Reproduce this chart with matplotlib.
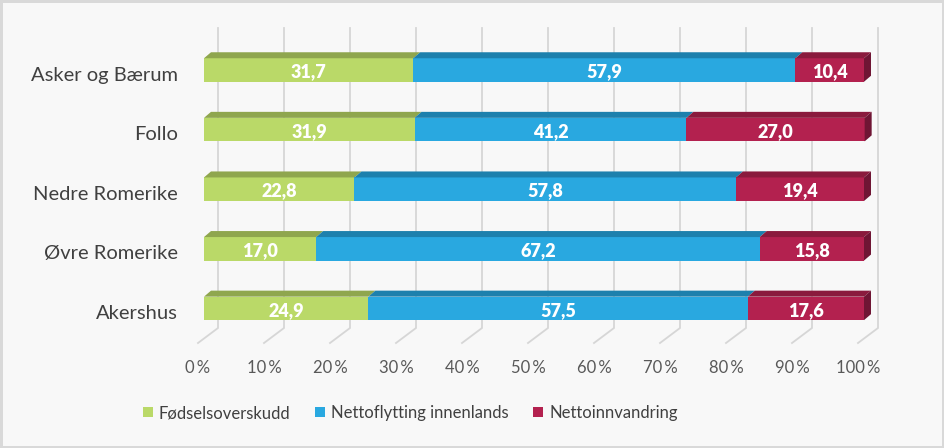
import matplotlib.pyplot as plt
from matplotlib.patches import Polygon, Patch

plt.rcParams['font.family'] = ['Lato', 'DejaVu Sans']

regions = ['Asker og Bærum', 'Follo', 'Nedre Romerike', 'Øvre Romerike', 'Akershus']
fodsel = [31.7, 31.9, 22.8, 17.0, 24.9]
innenlands = [57.9, 41.2, 57.8, 67.2, 57.5]
innvandring = [10.4, 27.0, 19.4, 15.8, 17.6]
series_names = ['Fødselsoverskudd', 'Nettoflytting innenlands', 'Nettoinnvandring']
ticks = [0, 10, 20, 30, 40, 50, 60, 70, 80, 90, 100]

front = ['#BAD968', '#29A8E0', '#B3214F']
top = ['#8FA64E', '#1D80AD', '#8A1A3D']
side_col = '#6F1534'
grid_col = '#D6D6D6'

# scale: 6.6 px per %, 59.6 px per category row
px_x = 6.6
px_y = 59.6
bar_h = 23.5 / px_y
dx, dy = 7 / px_x, 6 / px_y          # bar depth
back_dx = 14 / px_x                   # back wall offset
floor_dx = -6 / px_x

fig = plt.figure(figsize=(9.44, 4.48), dpi=100)
fig.patch.set_facecolor('#F8F8F8')
fig.patch.set_edgecolor('#D9D9D9')
fig.patch.set_linewidth(2.5)
ax = fig.add_axes([0, 0, 1, 1])
ax.set_xlim(-204 / px_x, (944 - 204) / px_x)
ax.set_ylim((448 - 70) / px_y, -70 / px_y)
ax.axis('off')

# gridlines: back wall + floor
y_top = (28 - 70) / px_y
y_floor = (328 - 70) / px_y
y_front = (343 - 70) / px_y
for t in ticks:
    ax.plot([t + back_dx, t + back_dx, t + floor_dx], [y_top, y_floor, y_front],
            color=grid_col, lw=1.3, zorder=1, solid_joinstyle='miter')
    ax.text(t + floor_dx, (368 - 70) / px_y, f'{t}\u2009%', ha='center', va='center',
            fontsize=12, color='#595959')

series = [fodsel, innenlands, innvandring]
for i, name in enumerate(regions):
    y = i
    left = 0
    for k, vals in enumerate(series):
        v = vals[i]
        ax.barh(y, v, left=left, height=bar_h, color=front[k], zorder=3, linewidth=0)
        yt = y - bar_h / 2
        ax.add_patch(Polygon([(left, yt), (left + v, yt), (left + v + dx, yt - dy),
                              (left + dx, yt - dy)], closed=True, facecolor=top[k],
                             edgecolor='none', zorder=3))
        ax.text(left + v / 2, y + 0.03, f'{v:.1f}'.replace('.', ','), ha='center',
                va='center', fontsize=13, fontweight='heavy', color='white', zorder=4)
        left += v
    yb = y + bar_h / 2
    ax.add_patch(Polygon([(left, yt), (left + dx, yt - dy), (left + dx, yb - dy),
                          (left, yb)], closed=True, facecolor=side_col,
                         edgecolor='none', zorder=3))
    ax.text(-26 / px_x, y + 5 / px_y, name, ha='right', va='center', fontsize=14.5,
            color='#404040')

handles = [Patch(facecolor=front[k], edgecolor='none') for k in range(3)]
fig.legend(handles, series_names, loc='center left', bbox_to_anchor=(0.151, 0.078),
           ncol=3, frameon=False, fontsize=12, handlelength=0.6, handleheight=0.6,
           handletextpad=0.35, columnspacing=1.5, labelcolor='#404040',
           borderpad=0, borderaxespad=0)

fig.savefig('out.png', dpi=100, facecolor=fig.get_facecolor(), edgecolor=fig.get_edgecolor())
